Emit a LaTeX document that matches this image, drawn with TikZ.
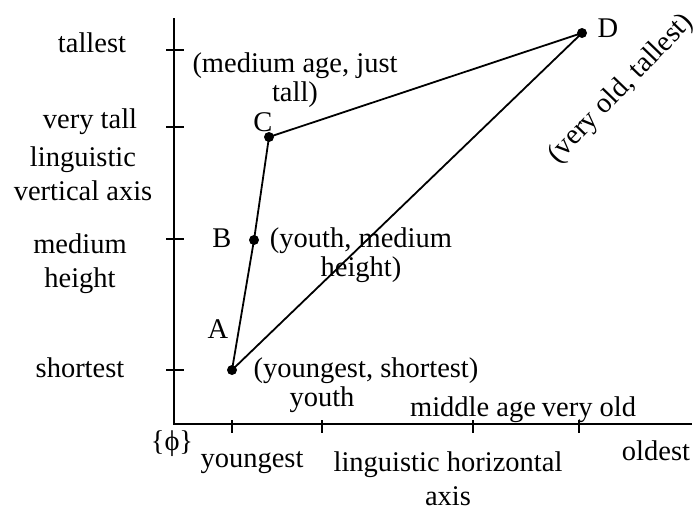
\documentclass[tikz,border=0pt]{standalone}
\usepackage{fontspec}
\setmainfont{Liberation Serif}
\begin{document}
\begin{tikzpicture}[x=1pt,y=-1pt, font=\fontsize{28.5}{34}\selectfont,
  lbl/.style={inner sep=0pt, anchor=base, align=center},
  axisline/.style={line width=2pt},
  edgeline/.style={line width=1.8pt},
  dot/.style={circle, fill=black, inner sep=0pt, minimum size=10pt}]
\useasboundingbox (0,0) rectangle (698,512);
% axes
\coordinate (Ytop) at (174,18);
\coordinate (O) at (174,424);
\coordinate (Xend) at (692,424);
\draw[axisline] (Ytop) -- (O) -- (Xend);
% vertical ticks
\foreach \y in {50,127,239,370} \draw[axisline] (166,\y) -- (184,\y);
% horizontal ticks
\foreach \x in {232,322,473,579} \draw[axisline] (\x,420) -- (\x,433);
% points
\node[dot] (A) at (232,370) {};
\node[dot] (B) at (254,240) {};
\node[dot] (C) at (269,137) {};
\node[dot] (D) at (582,33) {};
\draw[edgeline] (A.center) -- (B.center) -- (C.center) -- (D.center) -- (A.center);
% vertical axis labels
\node[lbl] (tallest) at (92,52) {tallest};
\node[lbl] (verytall) at (90,128) {very tall};
\node[lbl] (vaxis) at (83,200) {linguistic\\vertical axis};
\node[lbl] (medium) at (80,287) {medium\\height};
\node[lbl] (shortest) at (80,377) {shortest};
% horizontal axis labels
\node[lbl] (phi) at (172,450) {\{ϕ\}};
\node[lbl] (youngest) at (252,467) {youngest};
\node[lbl] (youth) at (322,406) {youth};
\node[lbl] (middle) at (473,416) {middle age};
\node[lbl] (veryold) at (589,416) {very old};
\node[lbl] (oldest) at (656,460) {oldest};
\node[lbl] (haxis) at (448,505) {linguistic horizontal\\axis};
% point letters
\node[lbl] (labA) at (218,338) {A};
\node[lbl] (labB) at (222,247) {B};
\node[lbl] (labC) at (263,131) {C};
\node[lbl] (labD) at (608,37) {D};
% point descriptions
\node[lbl] (ptA) at (366,377) {(youngest, shortest)};
\node[lbl] (ptB) at (361,276) {(youth, medium\\[-5pt]height)};
\node[lbl] (ptC) at (295,101) {(medium age, just\\[-5pt]tall)};
\node[rotate=46, inner sep=0pt] (ptD) at (621,89) {(very old, tallest)};
\end{tikzpicture}
\end{document}
